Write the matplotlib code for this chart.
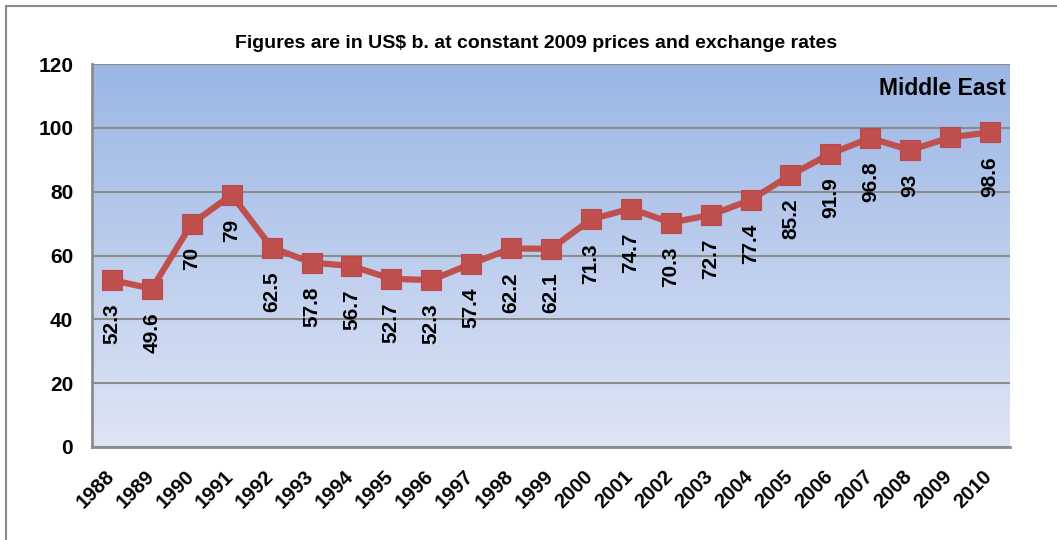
"""
Middle East military spending, 1988-2010, constant 2009 US$ b.
Line chart with Excel-style gradient plot area.
"""

import numpy as np
import matplotlib
matplotlib.use("Agg")
import matplotlib.pyplot as plt
from matplotlib.colors import LinearSegmentedColormap
from matplotlib.patches import Rectangle
import matplotlib.transforms as mtransforms


# Data

years = [str(y) for y in range(1988, 2011)]
values = [52.3, 49.6, 70, 79, 62.5, 57.8, 56.7, 52.7, 52.3, 57.4, 62.2, 62.1,
          71.3, 74.7, 70.3, 72.7, 77.4, 85.2, 91.9, 96.8, 93, 97.0, 98.6]
# 2009 has no label on the original chart
point_labels = ["52.3", "49.6", "70", "79", "62.5", "57.8", "56.7", "52.7",
                "52.3", "57.4", "62.2", "62.1", "71.3", "74.7", "70.3", "72.7",
                "77.4", "85.2", "91.9", "96.8", "93", None, "98.6"]
y_ticks = [0, 20, 40, 60, 80, 100, 120]

title = "Figures are in US$ b. at constant 2009 prices and exchange rates"
region = "Middle East"

LINE_RED = "#c0504d"
GRID_GRAY = "#8c8c8c"
FONT = "Liberation Sans"


fig = plt.figure(figsize=(10.57, 5.40), dpi=100)
ax = fig.add_axes([92 / 1057, 93 / 540, 918 / 1057, 383 / 540])

x = np.arange(len(years))
ax.set_xlim(-0.5, len(years) - 0.5)
ax.set_ylim(0, 120)

# gradient background (blue at top, pale at bottom)
grad = LinearSegmentedColormap.from_list("bg", ["#dee5f5", "#9bb6e5"])
ax.imshow(np.linspace(0, 1, 256).reshape(-1, 1), cmap=grad, aspect="auto",
          origin="lower", extent=(-0.5, len(years) - 0.5, 0, 120), zorder=0)

ax.set_yticks(y_ticks)
ax.yaxis.grid(True, color=GRID_GRAY, lw=1.5, zorder=1)
ax.set_axisbelow(True)
for s in ("top", "right"):
    ax.spines[s].set_visible(False)
for s in ("left", "bottom"):
    ax.spines[s].set_color(GRID_GRAY)
    ax.spines[s].set_linewidth(2)
ax.tick_params(length=0)
ax.tick_params(axis="y", pad=13.5)
ax.tick_params(axis="x", pad=14)

ax.plot(x, values, color=LINE_RED, lw=4.5, marker="s", ms=14,
        mfc=LINE_RED, mec="#b9494a", mew=0.8, zorder=3)

for xi, yi, lab in zip(x, values, point_labels):
    if lab is None:
        continue
    ax.annotate(lab, (xi, yi), xytext=(0, -17), textcoords="offset points",
                rotation=90, ha="center", va="top", fontsize=15,
                fontweight="bold", family=FONT, zorder=4)

ax.set_xticks(x)
ax.set_xticklabels(years, rotation=45, ha="right", fontsize=14.5,
                   fontweight="bold", family=FONT)
shift = mtransforms.ScaledTranslation(6 / 100, 0, fig.dpi_scale_trans)
for t in ax.get_xticklabels():
    t.set_transform(t.get_transform() + shift)
ax.set_yticklabels([str(v) for v in y_ticks], fontsize=15,
                   fontweight="bold", family=FONT)

ax.text(0.996, 0.935, region, transform=ax.transAxes, ha="right",
        va="center", fontsize=16.5, fontweight="bold", family=FONT,
        zorder=5)

fig.text(536 / 1057, 1 - 44 / 540, title, ha="center", va="center",
         fontsize=14, fontweight="bold", family=FONT)

# outer chart border (runs off right and bottom edge in the original)
fig.patches.append(Rectangle((6 / 1057, -0.05), 1.1, 0.05 + 534 / 540,
                             transform=fig.transFigure, fill=False,
                             ec="#8a8a8a", lw=1.5))

fig.savefig("out.png", dpi=100)
